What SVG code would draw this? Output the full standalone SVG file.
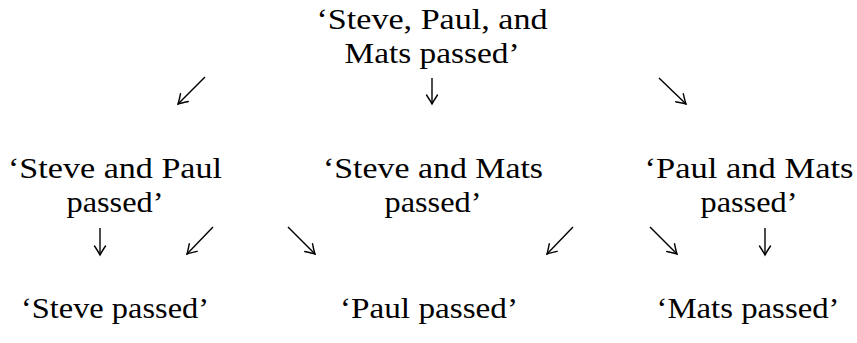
<svg xmlns="http://www.w3.org/2000/svg" width="857" height="343" viewBox="0 0 857 343">
<style>
text{font-family:"Liberation Serif","Times New Roman",serif;font-size:30px;fill:#000;text-anchor:middle}
.c line{stroke:#000;stroke-width:1.4;fill:none}
</style>
<defs>
<marker id="ah" markerUnits="userSpaceOnUse" viewBox="-12 -8 14 16" markerWidth="14" markerHeight="16" refX="0" refY="0" orient="auto">
<path d="M-9,-5.5 Q-2.5,-1.2 0,0 Q-2.5,1.2 -9,5.5" fill="none" stroke="#000" stroke-width="1.4" stroke-linecap="round"/>
</marker>
</defs>
<rect width="857" height="343" fill="#fff"/>
<g id="n-spm">
<text x="432" y="29" textLength="231" lengthAdjust="spacingAndGlyphs">‘Steve, Paul, and</text>
<text x="432" y="63" textLength="175" lengthAdjust="spacingAndGlyphs">Mats passed’</text>
</g>
<g id="n-sp">
<text x="115" y="178" textLength="214" lengthAdjust="spacingAndGlyphs">‘Steve and Paul</text>
<text x="115" y="212" textLength="97" lengthAdjust="spacingAndGlyphs">passed’</text>
</g>
<g id="n-sm">
<text x="433" y="178" textLength="220" lengthAdjust="spacingAndGlyphs">‘Steve and Mats</text>
<text x="433" y="212" textLength="97" lengthAdjust="spacingAndGlyphs">passed’</text>
</g>
<g id="n-pm">
<text x="749" y="178" textLength="209" lengthAdjust="spacingAndGlyphs">‘Paul and Mats</text>
<text x="749" y="212" textLength="97" lengthAdjust="spacingAndGlyphs">passed’</text>
</g>
<g id="n-s">
<text x="115" y="318" textLength="188" lengthAdjust="spacingAndGlyphs">‘Steve passed’</text>
</g>
<g id="n-p">
<text x="429" y="318" textLength="178" lengthAdjust="spacingAndGlyphs">‘Paul passed’</text>
</g>
<g id="n-m">
<text x="748" y="318" textLength="183" lengthAdjust="spacingAndGlyphs">‘Mats passed’</text>
</g>
<g id="connectors" class="c">
<line x1="205" y1="77" x2="178" y2="104" marker-end="url(#ah)"/>
<line x1="432" y1="78" x2="432" y2="104" marker-end="url(#ah)"/>
<line x1="659" y1="78" x2="686" y2="104" marker-end="url(#ah)"/>
<line x1="100" y1="228" x2="100" y2="255" marker-end="url(#ah)"/>
<line x1="213" y1="227" x2="187" y2="254" marker-end="url(#ah)"/>
<line x1="288" y1="227" x2="315" y2="254" marker-end="url(#ah)"/>
<line x1="573" y1="227" x2="547" y2="254" marker-end="url(#ah)"/>
<line x1="650" y1="227" x2="677" y2="254" marker-end="url(#ah)"/>
<line x1="765" y1="228" x2="765" y2="255" marker-end="url(#ah)"/>
</g>
</svg>
